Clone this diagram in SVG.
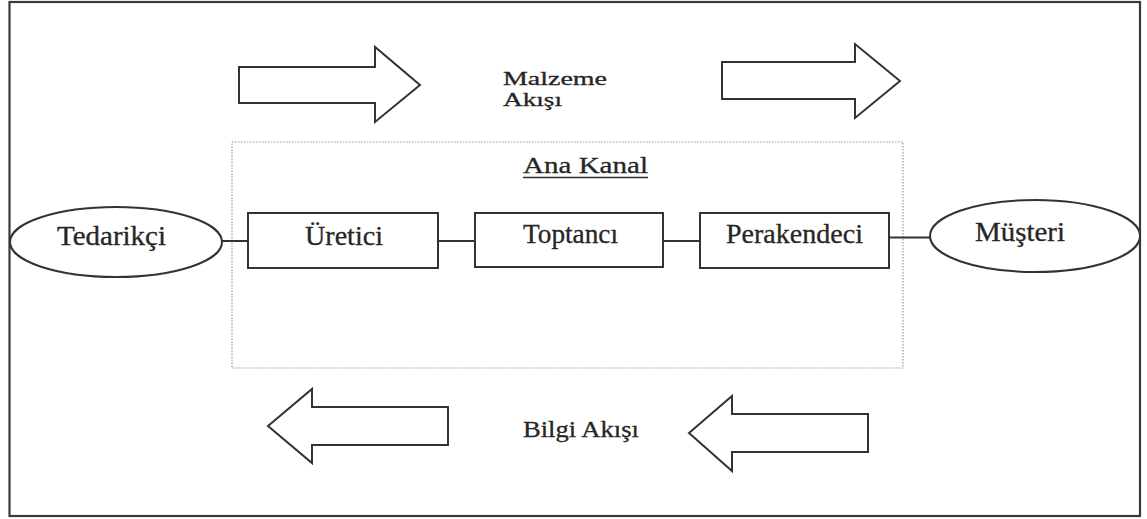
<svg xmlns="http://www.w3.org/2000/svg" width="1147" height="519" viewBox="0 0 1147 519">
  <style>
    .frame { fill: #ffffff; stroke: #3a3a3a; stroke-width: 2.2; }
    .box { fill: #ffffff; stroke: #333333; stroke-width: 2; }
    .channel { fill: none; stroke: #9a9a9a; stroke-width: 1.2; stroke-dasharray: 1.5 1.5; }
    .conn { stroke: #333333; stroke-width: 2; fill: none; }
    .bigarrow { fill: #ffffff; stroke: #333333; stroke-width: 2; stroke-linejoin: miter; }
    .lbl { font-family: "Liberation Serif", "Times New Roman", serif; fill: #262626; font-size: 27px; stroke: #262626; stroke-width: 0.3; }
    .small { font-family: "Liberation Serif", "Times New Roman", serif; fill: #262626; font-size: 23px; stroke: #262626; stroke-width: 0.3; }
    .flow { font-family: "Liberation Serif", "Times New Roman", serif; fill: #262626; font-size: 19px; stroke: #262626; stroke-width: 0.3; }
  </style>
  <rect x="0" y="0" width="1147" height="519" fill="#ffffff"/>
  <rect class="frame" x="9.5" y="2" width="1130.5" height="514"/>

  <g id="channel">
    <rect class="channel" x="232" y="142" width="671" height="226"/>
    <text class="small" x="523" y="173" textLength="125" lengthAdjust="spacingAndGlyphs">Ana Kanal</text>
    <line x1="523" y1="177.5" x2="648" y2="177.5" stroke="#2a2a2a" stroke-width="1.3"/>
  </g>

  <g id="material-flow">
    <polygon class="bigarrow" points="239,67 375,67 375,47 420,85 375,122 375,103 239,103"/>
    <polygon class="bigarrow" points="722,62 855,62 855,44 900,81 855,118 855,99 722,99"/>
    <text class="flow" x="503" y="85" textLength="104" lengthAdjust="spacingAndGlyphs">Malzeme</text>
    <text class="flow" x="503" y="106" textLength="59" lengthAdjust="spacingAndGlyphs">Akışı</text>
  </g>

  <g id="information-flow">
    <polygon class="bigarrow" points="448,407 312,407 312,389 268,426 312,463 312,445 448,445"/>
    <polygon class="bigarrow" points="868,414 732,414 732,396 689,433 732,471 732,452 868,452"/>
    <text class="small" x="523" y="437" textLength="116" lengthAdjust="spacingAndGlyphs">Bilgi Akışı</text>
  </g>

  <g id="connectors">
    <line class="conn" x1="222" y1="241" x2="248" y2="241"/>
    <line class="conn" x1="433" y1="241" x2="475" y2="241"/>
    <line class="conn" x1="660" y1="241" x2="700" y2="241"/>
    <line class="conn" x1="886" y1="237.5" x2="930" y2="237.5"/>
  </g>

  <g id="tedarikci">
    <ellipse class="box" cx="116" cy="242" rx="106" ry="35"/>
    <text class="lbl" x="57" y="245" textLength="109" lengthAdjust="spacingAndGlyphs">Tedarikçi</text>
  </g>

  <g id="uretici">
    <rect class="box" x="248" y="213" width="190" height="55"/>
    <text class="lbl" x="305" y="245" textLength="78" lengthAdjust="spacingAndGlyphs">Üretici</text>
  </g>

  <g id="toptanci">
    <rect class="box" x="475" y="213" width="188" height="54"/>
    <text class="lbl" x="523" y="243" textLength="95" lengthAdjust="spacingAndGlyphs">Toptancı</text>
  </g>

  <g id="perakendeci">
    <rect class="box" x="700" y="213" width="189" height="55"/>
    <text class="lbl" x="726" y="243" textLength="137" lengthAdjust="spacingAndGlyphs">Perakendeci</text>
  </g>

  <g id="musteri">
    <ellipse class="box" cx="1035" cy="236" rx="105" ry="36"/>
    <text class="lbl" x="975" y="241" textLength="90" lengthAdjust="spacingAndGlyphs">Müşteri</text>
  </g>
</svg>
